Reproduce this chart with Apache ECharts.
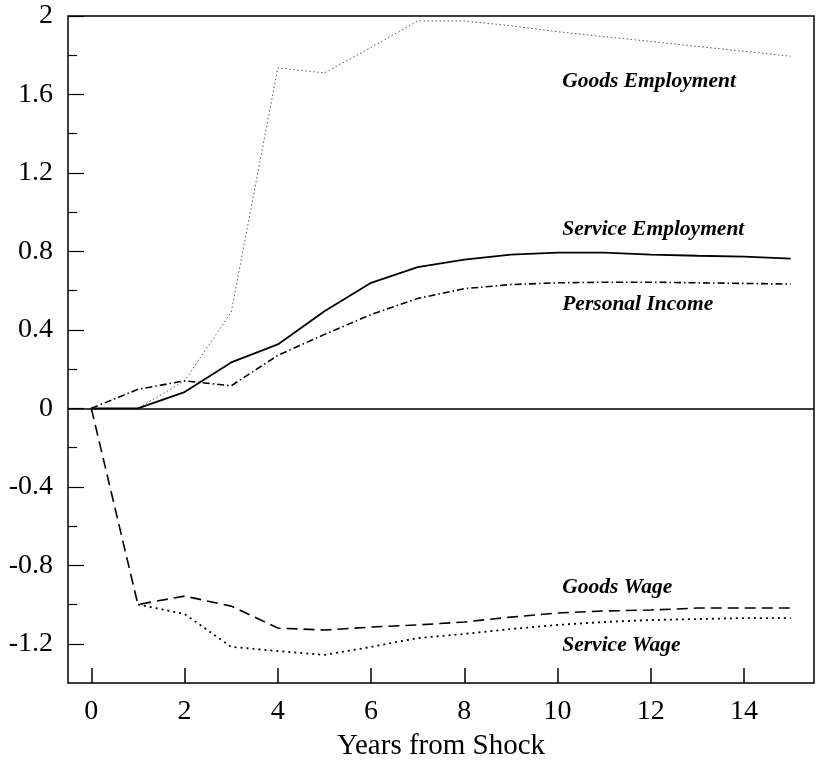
<!DOCTYPE html>
<html>
<head>
<meta charset="utf-8">
<script src="https://cdn.jsdelivr.net/npm/echarts@6/dist/echarts.min.js"></script>
<style>
  html, body { margin: 0; padding: 0; background: #fff; }
  #main { width: 819px; height: 761px; }
</style>
</head>
<body>
<div id="main"></div>
<script>
// years after the shock
var years = [0, 1, 2, 3, 4, 5, 6, 7, 8, 9, 10, 11, 12, 13, 14, 15];

// responses (null = curve not drawn there)
var goodsEmployment   = [0, 0, 0.14, 0.49, 1.735, 1.71, 1.84, 1.975, 1.975, 1.95, 1.92, 1.895, 1.87, 1.845, 1.82, 1.795];
var serviceEmployment = [0, 0, 0.083, 0.234, 0.326, 0.495, 0.64, 0.72, 0.758, 0.784, 0.794, 0.794, 0.784, 0.778, 0.773, 0.763];
var personalIncome    = [0, 0.097, 0.14, 0.115, 0.27, 0.377, 0.478, 0.56, 0.61, 0.631, 0.64, 0.643, 0.643, 0.64, 0.637, 0.633];
var goodsWage         = [0, -1.0, -0.957, -1.008, -1.12, -1.13, -1.115, -1.104, -1.089, -1.064, -1.043, -1.033, -1.028, -1.018, -1.018, -1.018];
var serviceWage       = [null, -1.0, -1.048, -1.216, -1.237, -1.257, -1.216, -1.171, -1.15, -1.125, -1.104, -1.089, -1.079, -1.074, -1.069, -1.069];

// tick labels
var xTicks = [0, 2, 4, 6, 8, 10, 12, 14];
var yTicks = [-1.2, -0.8, -0.4, 0, 0.4, 0.8, 1.2, 1.6, 2];
var yMinorTicks = [-1.0, -0.6, -0.2, 0.2, 0.6, 1.0, 1.4, 1.8];

// curve labels, anchored in data units
var curveNames = ['Goods Employment', 'Service Employment', 'Personal Income', 'Goods Wage', 'Service Wage'];
var curveLabelX = [10.1, 10.1, 10.1, 10.1, 10.1];
var curveLabelY = [1.664, 0.911, 0.529, -0.911, -1.211];

function pairs(ys) {
  return years.map(function (x, i) { return [x, ys[i]]; });
}

var serif = '"Liberation Serif", "DejaVu Serif", serif';

var myChart = echarts.init(document.getElementById('main'));

var option = {
  animation: false,
  backgroundColor: '#fff',
  grid: {
    left: 68, right: 5, top: 16, bottom: 78,
    outerBoundsMode: 'none',
    show: true, borderColor: '#000', borderWidth: 1.5
  },
  xAxis: {
    type: 'value',
    min: -0.5,
    max: 15.5,
    name: 'Years from Shock',
    nameLocation: 'middle',
    nameGap: 49,
    nameTextStyle: { fontFamily: serif, fontSize: 29, color: '#000' },
    axisLine: { show: false, onZero: false },
    splitLine: { show: false },
    axisTick: { inside: true, length: 15, customValues: xTicks, lineStyle: { color: '#000', width: 1.5 } },
    axisLabel: { customValues: xTicks, margin: 15, fontFamily: serif, fontSize: 28, color: '#000' }
  },
  yAxis: [{
    type: 'value',
    min: -1.4,
    max: 2,
    position: 'left',
    axisLine: { show: false, onZero: false },
    splitLine: { show: false },
    axisTick: { inside: true, length: 16, customValues: yTicks, lineStyle: { color: '#000', width: 1.2 } },
    axisLabel: { customValues: yTicks, margin: 15, fontFamily: serif, fontSize: 28, color: '#000' }
  }, {
    type: 'value',
    min: -1.4,
    max: 2,
    position: 'left',
    axisLine: { show: false, onZero: false },
    splitLine: { show: false },
    axisTick: { inside: true, length: 9, customValues: yMinorTicks, lineStyle: { color: '#000', width: 1.2 } },
    axisLabel: { show: false }
  }],
  series: [{
    name: curveNames[0],
    type: 'line',
    data: pairs(goodsEmployment),
    symbol: 'none',
    lineStyle: { color: '#555', width: 1, type: [1.5, 2.5] },
    markLine: {
      silent: true,
      symbol: 'none',
      label: { show: false },
      lineStyle: { color: '#000', width: 1.5, type: 'solid' },
      data: [{ yAxis: 0 }]
    }
  }, {
    name: curveNames[1],
    type: 'line',
    data: pairs(serviceEmployment),
    symbol: 'none',
    lineStyle: { color: '#000', width: 1.8, type: 'solid' }
  }, {
    name: curveNames[2],
    type: 'line',
    data: pairs(personalIncome),
    symbol: 'none',
    lineStyle: { color: '#000', width: 1.6, type: [7, 3, 1.5, 3] }
  }, {
    name: curveNames[3],
    type: 'line',
    data: pairs(goodsWage),
    symbol: 'none',
    lineStyle: { color: '#000', width: 1.6, type: [11, 6] }
  }, {
    name: curveNames[4],
    type: 'line',
    data: pairs(serviceWage),
    symbol: 'none',
    lineStyle: { color: '#000', width: 1.8, type: [2, 4] }
  }]
};

myChart.setOption(option);

// italic curve names placed through the axes' own scales
var texts = curveNames.map(function (name, i) {
  var p = myChart.convertToPixel({ gridIndex: 0 }, [curveLabelX[i], curveLabelY[i]]);
  return {
    type: 'text',
    x: p[0],
    y: p[1],
    style: {
      text: name,
      fontFamily: serif,
      fontStyle: 'italic',
      fontWeight: 'bold',
      fontSize: 21.5,
      fill: '#000',
      verticalAlign: 'middle',
      align: 'left'
    }
  };
});
myChart.setOption({ graphic: texts });
</script>
</body>
</html>
